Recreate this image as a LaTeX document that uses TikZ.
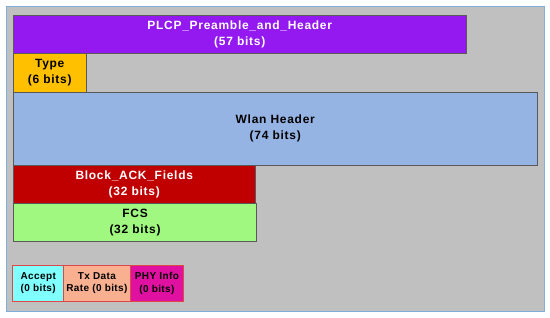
\documentclass[tikz,border=0pt]{standalone}
\usepackage{fontspec}
\newfontfamily\lblfont{Liberation Sans}[LetterSpace=6]
\newfontfamily\smlfont{Liberation Sans}[LetterSpace=4]
\definecolor{bg}{HTML}{C0C0C0}
\definecolor{frame}{HTML}{7FAEDC}
\definecolor{plcp}{HTML}{9418F0}
\definecolor{typec}{HTML}{FFC000}
\definecolor{wlan}{HTML}{95B3E3}
\definecolor{blockc}{HTML}{C00000}
\definecolor{fcs}{HTML}{A0F880}
\definecolor{acc}{HTML}{80FFFF}
\definecolor{txd}{HTML}{F8B090}
\definecolor{phy}{HTML}{E010A0}
\definecolor{smallborder}{HTML}{E04848}
\begin{document}
\begin{tikzpicture}[x=1pt,y=-1pt,
  field/.style={draw=black!65,line width=0.8pt,anchor=north west,inner sep=0pt,
    align=center,font=\lblfont\bfseries\fontsize{12}{16}\selectfont},
  small/.style={draw=smallborder,line width=0.8pt,anchor=north west,inner sep=0pt,
    align=center,font=\smlfont\bfseries\fontsize{10}{12.3}\selectfont}]
\useasboundingbox (0,0) rectangle (550,317);
\fill[white] (0,0) rectangle (550,317);
\node[draw=frame,fill=bg,line width=1.4pt,anchor=north west,inner sep=0pt,
  minimum width=537.7pt,minimum height=304.7pt] (outer) at (6,6) {};
\node[field,fill=plcp,text=white,minimum width=453.3pt,minimum height=38.6pt] (plcp) at (12.7,14.7)
  {PLCP\_Preamble\_and\_Header\\(57 bits)};
\node[field,fill=typec,minimum width=73.3pt,minimum height=38.7pt] (type) at (12.7,53.3)
  {Type\\(6 bits)};
\node[field,fill=wlan,minimum width=524.3pt,minimum height=72.7pt] (wlan) at (12.7,92)
  {Wlan Header\\(74 bits)};
\node[field,fill=blockc,text=white,minimum width=242.3pt,minimum height=38pt] (block) at (12.7,164.7)
  {Block\_ACK\_Fields\\(32 bits)};
\node[field,fill=fcs,minimum width=242.7pt,minimum height=38.3pt] (fcs) at (13.3,202.7)
  {FCS\\(32 bits)};
\node[small,fill=acc,minimum width=51pt,minimum height=35.4pt] (accept) at (12.3,265.3)
  {Accept\\(0 bits)};
\node[small,fill=txd,minimum width=66.4pt,minimum height=35.4pt] (txdata) at (63.3,265.3)
  {Tx Data\\Rate (0 bits)};
\node[small,fill=phy,minimum width=53.6pt,minimum height=35.4pt] (phyinfo) at (129.7,265.3)
  {PHY Info\\(0 bits)};
\end{tikzpicture}
\end{document}
